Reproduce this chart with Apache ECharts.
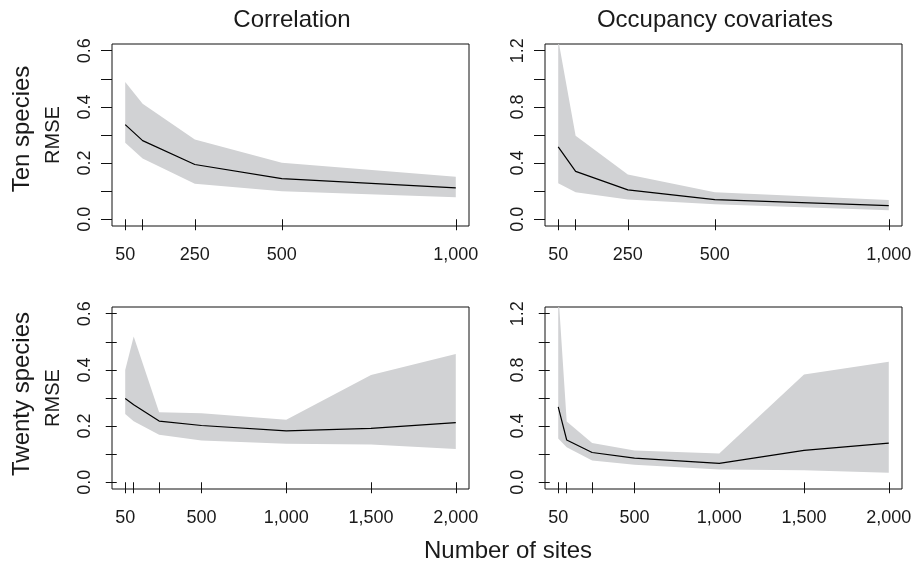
<!DOCTYPE html>
<html>
<head>
<meta charset="utf-8">
<script src="https://cdn.jsdelivr.net/npm/echarts@6/dist/echarts.min.js"></script>
<style>html,body{margin:0;padding:0;background:#fff}#c{width:917px;height:566px}</style>
</head>
<body>
<div id="c"></div>
<script>
// ---- data ----
var sitesTen = [50, 100, 250, 500, 1000];
var sitesTwenty = [50, 100, 250, 500, 1000, 1500, 2000];
var tenTickLabels = [50, 250, 500, 1000];
var twentyTickLabels = [50, 500, 1000, 1500, 2000];

var tenCorrMean  = [0.337, 0.280, 0.195, 0.145, 0.112];
var tenCorrLower = [0.272, 0.216, 0.126, 0.100, 0.078];
var tenCorrUpper = [0.489, 0.411, 0.284, 0.201, 0.151];

var tenOccMean  = [0.515, 0.341, 0.209, 0.140, 0.097];
var tenOccLower = [0.256, 0.192, 0.140, 0.107, 0.064];
var tenOccUpper = [1.28, 0.595, 0.318, 0.192, 0.138];

var twCorrMean  = [0.298, 0.276, 0.218, 0.202, 0.183, 0.192, 0.212];
var twCorrLower = [0.243, 0.217, 0.169, 0.149, 0.137, 0.134, 0.118];
var twCorrUpper = [0.400, 0.519, 0.249, 0.246, 0.223, 0.382, 0.457];

var twOccMean  = [0.537, 0.301, 0.212, 0.172, 0.134, 0.227, 0.279];
var twOccLower = [0.312, 0.250, 0.155, 0.124, 0.091, 0.086, 0.067];
var twOccUpper = [1.36, 0.432, 0.279, 0.227, 0.205, 0.768, 0.859];

var corrYTicks = [0, 0.1, 0.2, 0.3, 0.4, 0.5, 0.6];
var corrYLabels = [0, 0.2, 0.4, 0.6];
var occYTicks = [0, 0.2, 0.4, 0.6, 0.8, 1.0, 1.2];
var occYLabels = [0, 0.4, 0.8, 1.2];

// ---- chart ----
var FONT = '"Liberation Sans", Arial, Helvetica, sans-serif';
var TXT = '#1a1a1a';
var SHADE = '#d1d2d4';

var grids = [
  {left: 112, top: 44, width: 357, height: 182},
  {left: 545, top: 44, width: 357, height: 182},
  {left: 112, top: 307, width: 357, height: 182},
  {left: 545, top: 307, width: 357, height: 182}
];
grids.forEach(function (g) { g.show = true; g.borderColor = '#111'; g.borderWidth = 1; g.backgroundColor = 'transparent'; });

function fmtNum(v) { return Number(v).toLocaleString('en-US'); }

function xAxis(gi, ticks, labels) {
  var lo = ticks[0], hi = ticks[ticks.length - 1], pad = (hi - lo) * 0.04;
  return {
    type: 'value', gridIndex: gi, min: lo - pad, max: hi + pad,
    axisLine: {show: false},
    splitLine: {show: false},
    axisTick: {show: true, inside: false, length: 11, customValues: ticks, lineStyle: {color: '#111', width: 1}},
    axisLabel: {show: true, customValues: labels, margin: 20, hideOverlap: false,
      fontSize: 18, fontFamily: FONT, color: TXT, formatter: fmtNum}
  };
}
function yAxis(gi, ticks, labels) {
  var lo = ticks[0], hi = ticks[ticks.length - 1], pad = (hi - lo) * 0.04;
  return {
    type: 'value', gridIndex: gi, min: lo - pad, max: hi + pad,
    axisLine: {show: false},
    splitLine: {show: false},
    axisTick: {show: true, inside: false, length: 11, customValues: ticks, lineStyle: {color: '#111', width: 1}},
    axisLabel: {show: true, customValues: labels, rotate: 90, margin: 18, hideOverlap: false,
      fontSize: 18, fontFamily: FONT, color: TXT,
      formatter: function (v) { return Number(v).toFixed(1); }}
  };
}

function pairs(xs, ys) { return xs.map(function (x, i) { return [x, ys[i]]; }); }
function bandData(xs, lo, up) { return xs.map(function (x, i) { return [x, lo[i], up[i]]; }); }

function panelSeries(gi, xs, mean, lower, upper) {
  return [
    {type: 'custom', xAxisIndex: gi, yAxisIndex: gi, clip: true, silent: true, z: 1,
      data: bandData(xs, lower, upper),
      encode: {x: 0, y: [1, 2]},
      renderItem: function (params, api) {
        if (params.dataIndex !== 0) return null;
        var top = [], bot = [];
        for (var i = 0; i < xs.length; i++) {
          top.push(api.coord([xs[i], upper[i]]));
          bot.push(api.coord([xs[i], lower[i]]));
        }
        var pts = top.concat(bot.reverse());
        return {type: 'polygon', shape: {points: pts}, style: {fill: SHADE, stroke: null}};
      }},
    {type: 'line', xAxisIndex: gi, yAxisIndex: gi, data: pairs(xs, mean),
      symbol: 'none', lineStyle: {color: '#000', width: 1.2}, silent: true, z: 3}
  ];
}

var series = [].concat(
  panelSeries(0, sitesTen, tenCorrMean, tenCorrLower, tenCorrUpper),
  panelSeries(1, sitesTen, tenOccMean, tenOccLower, tenOccUpper),
  panelSeries(2, sitesTwenty, twCorrMean, twCorrLower, twCorrUpper),
  panelSeries(3, sitesTwenty, twOccMean, twOccLower, twOccUpper)
);

function txt(s, x, y, size, rot) {
  return {type: 'text', x: x, y: y, rotation: rot ? Math.PI / 2 : 0, silent: true,
    style: {text: s, fill: TXT, font: size + 'px ' + FONT, textAlign: 'center', textVerticalAlign: 'middle'}};
}

var option = {
  animation: false,
  backgroundColor: '#fff',
  textStyle: {fontFamily: FONT, fontSize: 18, color: TXT},
  grid: grids,
  xAxis: [
    xAxis(0, sitesTen, tenTickLabels),
    xAxis(1, sitesTen, tenTickLabels),
    xAxis(2, sitesTwenty, twentyTickLabels),
    xAxis(3, sitesTwenty, twentyTickLabels)
  ],
  yAxis: [
    yAxis(0, corrYTicks, corrYLabels),
    yAxis(1, occYTicks, occYLabels),
    yAxis(2, corrYTicks, corrYLabels),
    yAxis(3, occYTicks, occYLabels)
  ],
  series: series,
  graphic: [
    txt('Correlation', 292, 20, 24),
    txt('Occupancy covariates', 715, 20, 24),
    txt('Ten species', 22, 129, 24, true),
    txt('RMSE', 53, 135, 20, true),
    txt('Twenty species', 22, 394, 24, true),
    txt('RMSE', 53, 398, 20, true),
    txt('Number of sites', 508, 551, 24)
  ]
};

var chart = echarts.init(document.getElementById('c'), null, {renderer: 'canvas'});
chart.setOption(option);
</script>
</body>
</html>
